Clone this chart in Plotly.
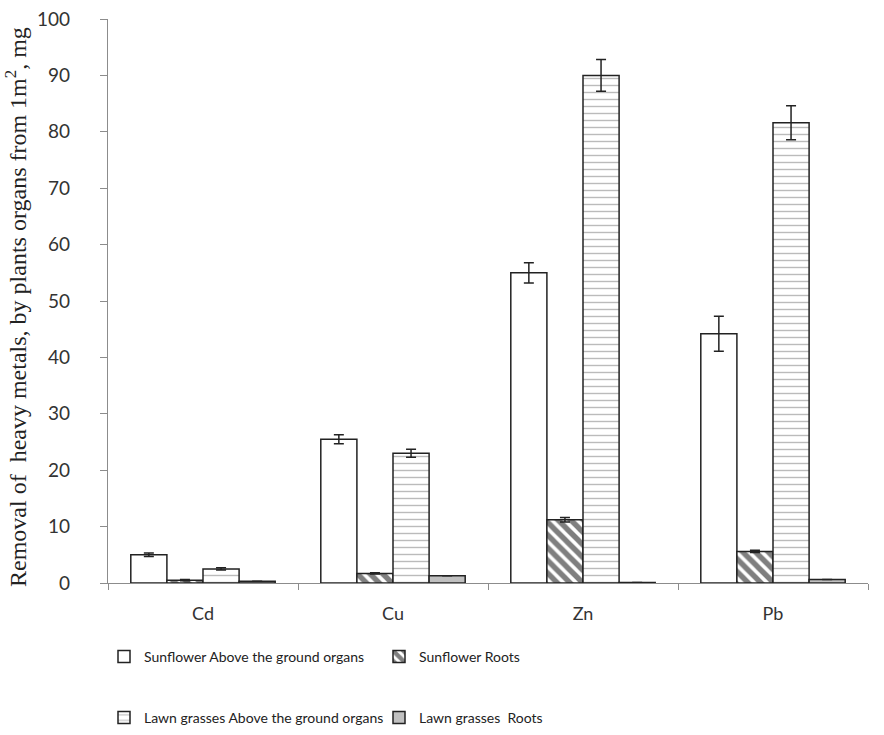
import plotly.graph_objects as go

metals = ["Cd", "Cu", "Zn", "Pb"]
series_names = [
    "Sunflower Above the ground organs",
    "Sunflower Roots",
    "Lawn grasses Above the ground organs",
    "Lawn grasses  Roots",
]
sun_above = [5.0, 25.5, 55.0, 44.2]
sun_above_err = [0.3, 0.8, 1.8, 3.1]
sun_roots = [0.5, 1.7, 11.2, 5.6]
sun_roots_err = [0.1, 0.1, 0.4, 0.2]
lawn_above = [2.5, 23.0, 90.0, 81.6]
lawn_above_err = [0.2, 0.7, 2.8, 3.0]
lawn_roots = [0.3, 1.3, 0.1, 0.6]
lawn_roots_err = [0.0, 0.0, 0.0, 0.0]
y_title = "Removal of  heavy metals, by plants organs from 1m<sup>2</sup>, mg"

values = [sun_above, sun_roots, lawn_above, lawn_roots]
errors = [sun_above_err, sun_roots_err, lawn_above_err, lawn_roots_err]
fills = ["white", "white", "white", "#c0c0c0"]
patterns = [
    dict(shape=""),
    dict(shape="\\", fgcolor="black", bgcolor="white", size=9, solidity=0.6, fillmode="overlay"),
    dict(shape="-", fgcolor="#777777", bgcolor="white", size=7, solidity=0.2, fillmode="overlay"),
    dict(shape=""),
]
legends = ["legend", "legend", "legend2", "legend2"]

fig = go.Figure()
for name, v, e, fc, pat, lg in zip(series_names, values, errors, fills, patterns, legends):
    fig.add_trace(go.Bar(
        x=metals, y=v, name=name,
        marker=dict(color=fc, line=dict(color="#222222", width=1.5), pattern=pat),
        error_y=dict(type="data", array=e, visible=True, color="#222222", thickness=1.5, width=5),
        legend=lg,
    ))

legend_font = dict(family="Lato, Open Sans, sans-serif", size=14, color="#222222")
tick_font_family = "Lato, Open Sans, sans-serif"
fig.update_layout(
    width=884, height=735,
    margin=dict(l=108, r=16, t=19, b=152, autoexpand=False),
    paper_bgcolor="white", plot_bgcolor="white",
    barmode="group", bargap=0.24, bargroupgap=0,
    showlegend=True,
    legend=dict(orientation="h", xref="container", yref="container",
                x=104 / 884, y=1 - 657 / 735, xanchor="left", yanchor="middle",
                entrywidth=230, entrywidthmode="pixels", font=legend_font, traceorder="normal"),
    legend2=dict(orientation="h", xref="container", yref="container",
                 x=104 / 884, y=1 - 718 / 735, xanchor="left", yanchor="middle",
                 entrywidth=230, entrywidthmode="pixels", font=legend_font, traceorder="normal"),
    xaxis=dict(
        automargin=False,
        showline=True, linecolor="#8c8c8c", linewidth=1.2,
        ticks="outside", tickson="boundaries", ticklen=6, tickcolor="#8c8c8c",
        tickfont=dict(family=tick_font_family, size=18, color="#333333"),
        ticklabelstandoff=14,
        showgrid=False,
    ),
    yaxis=dict(
        automargin=False,
        range=[0, 100], dtick=10, showgrid=False, zeroline=False,
        showline=True, linecolor="#8c8c8c", linewidth=1.2,
        ticks="outside", ticklen=7, tickcolor="#8c8c8c",
        tickfont=dict(family=tick_font_family, size=19, color="#333333"),
        ticklabelstandoff=26,
    ),
    annotations=[dict(
        text=y_title, textangle=-90, showarrow=False,
        xref="paper", yref="paper",
        x=(16 - 108) / 760, y=(583 - 307) / 564, xanchor="center", yanchor="middle",
        font=dict(family="Liberation Serif, Times New Roman, serif", size=24, color="#222222"),
    )],
)

fig.write_html(
    "out.html",
    config={"displayModeBar": False},
    post_script="document.body.style.margin='0';document.body.style.overflow='hidden';",
)
